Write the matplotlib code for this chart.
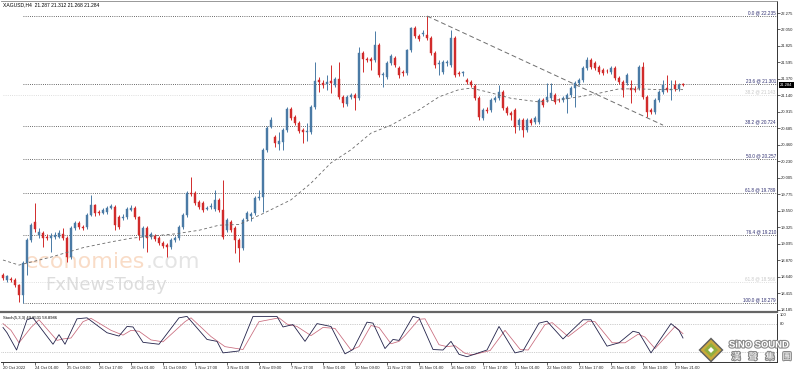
import matplotlib
matplotlib.use("Agg")
import matplotlib.pyplot as plt
import matplotlib.patheffects as pe
from matplotlib.patches import Polygon
import numpy as np

plt.rcParams["font.family"] = ["Liberation Sans", "DejaVu Sans"]

# ---------------- data ----------------
title_text = "XAGUSD,H4  21.287 21.312 21.268 21.284"
stoch_text = "Stoch(5,3,3) 49.8531 58.8986"
last_price = 21.284

opens = [
    18.66, 18.59, 18.61, 18.59, 18.53, 18.39, 18.83, 19.15, 19.39, 19.21,
    19.24, 19.19, 19.17, 19.19, 19.19, 19.23, 19.17, 18.91, 19.31, 19.38,
    19.33, 19.33, 19.49, 19.63, 19.53, 19.52, 19.53, 19.59, 19.60, 19.46,
    19.45, 19.46, 19.56, 19.59, 19.46, 19.19, 19.31, 19.19, 19.20, 19.17,
    19.10, 19.08, 19.05, 19.15, 19.17, 19.33, 19.49, 19.79, 19.79, 19.67,
    19.66, 19.58, 19.60, 19.57, 19.70, 19.56, 19.28, 19.39, 19.31, 19.15,
    19.04, 19.44, 19.48, 19.52, 19.73, 19.74, 20.39, 20.70, 20.57, 20.47,
    20.50, 20.66, 20.95, 20.84, 20.76, 20.66, 20.64, 20.64, 20.98, 21.35,
    21.31, 21.30, 21.34, 21.28, 21.37, 21.12, 21.02, 21.12, 21.15, 21.10,
    21.73, 21.64, 21.64, 21.63, 21.84, 21.42, 21.39, 21.59, 21.66, 21.52,
    21.46, 21.45, 21.77, 22.07, 21.96, 21.99, 21.97, 21.93, 21.73, 21.58,
    21.46, 21.59, 21.56, 21.93, 21.45, 21.45, 21.35, 21.33, 21.27, 21.10,
    20.83, 20.94, 20.94, 21.08, 21.10, 21.19, 20.97, 20.90, 20.94, 20.73,
    20.80, 20.66, 20.80, 20.77, 20.77, 21.08, 21.08, 21.10, 21.15, 21.08,
    21.08, 21.09, 21.15, 21.24, 21.31, 21.35, 21.52, 21.63, 21.59, 21.53,
    21.49, 21.48, 21.46, 21.52, 21.38, 21.33, 21.31, 21.24, 21.23, 21.24,
    21.53, 21.12, 20.94, 20.91, 21.08, 21.19, 21.24, 21.22, 21.28, 21.23,
    21.287,
]
highs = [
    18.69, 18.66, 18.64, 18.62, 18.54, 18.86, 19.17, 19.38, 19.66, 19.31,
    19.27, 19.23, 19.24, 19.26, 19.28, 19.31, 19.20, 19.34, 19.41, 19.41,
    19.35, 19.52, 19.77, 19.64, 19.56, 19.59, 19.62, 19.64, 19.63, 19.49,
    19.50, 19.60, 19.63, 19.62, 19.48, 19.34, 19.34, 19.26, 19.23, 19.20,
    19.13, 19.10, 19.17, 19.20, 19.35, 19.52, 19.82, 20.02, 19.82, 19.70,
    19.68, 19.62, 19.66, 19.84, 19.73, 19.97, 19.45, 19.42, 19.34, 19.17,
    19.45, 19.55, 19.53, 19.75, 19.84, 20.41, 20.72, 20.84, 20.59, 20.64,
    20.69, 20.98, 20.98, 20.87, 20.79, 20.69, 20.76, 21.01, 21.60, 21.39,
    21.35, 21.42, 21.56, 21.39, 21.60, 21.15, 21.15, 21.17, 21.17, 21.81,
    21.75, 21.67, 21.67, 22.03, 21.86, 21.46, 21.61, 21.71, 21.68, 21.55,
    21.49, 21.78, 22.08, 22.10, 21.99, 22.04, 22.235, 21.96, 21.75, 21.63,
    21.63, 21.63, 22.04, 21.96, 21.48, 21.48, 21.38, 21.35, 21.30, 21.13,
    20.97, 20.98, 21.10, 21.13, 21.28, 21.21, 20.99, 20.93, 20.97, 20.83,
    20.83, 20.83, 20.83, 20.86, 21.10, 21.10, 21.31, 21.31, 21.17, 21.10,
    21.13, 21.17, 21.27, 21.34, 21.38, 21.55, 21.67, 21.66, 21.62, 21.56,
    21.52, 21.50, 21.55, 21.55, 21.41, 21.35, 21.45, 21.35, 21.27, 21.56,
    21.60, 21.15, 20.97, 21.10, 21.22, 21.35, 21.42, 21.35, 21.35, 21.31,
    21.312,
]
lows = [
    18.59, 18.57, 18.57, 18.50, 18.29, 18.279, 18.66, 19.12, 19.26, 19.17,
    19.05, 19.15, 18.98, 19.16, 19.17, 19.15, 18.84, 18.88, 19.28, 19.30,
    19.28, 19.30, 19.48, 19.48, 19.49, 19.50, 19.50, 19.57, 19.28, 19.30,
    19.42, 19.44, 19.55, 19.44, 19.15, 19.04, 18.98, 19.16, 19.13, 19.08,
    19.04, 18.91, 19.02, 19.12, 19.15, 19.30, 19.46, 19.75, 19.63, 19.57,
    19.53, 19.56, 19.57, 19.55, 19.53, 19.16, 19.26, 19.26, 18.97, 18.84,
    19.01, 19.41, 19.41, 19.49, 19.70, 19.53, 20.36, 20.69, 20.43, 20.39,
    20.39, 20.64, 20.80, 20.73, 20.62, 20.48, 20.51, 20.61, 20.95, 21.19,
    21.24, 21.22, 21.17, 21.26, 21.09, 20.98, 20.99, 21.09, 20.94, 21.08,
    21.46, 21.60, 21.49, 21.60, 21.39, 21.26, 21.37, 21.56, 21.53, 21.38,
    21.41, 21.42, 21.74, 21.93, 21.89, 21.96, 21.90, 21.70, 21.52, 21.42,
    21.44, 21.55, 21.53, 21.39, 21.41, 21.41, 21.30, 21.26, 21.08, 20.80,
    20.80, 20.90, 20.91, 21.05, 21.08, 20.94, 20.87, 20.80, 20.62, 20.66,
    20.57, 20.64, 20.73, 20.75, 20.75, 20.98, 21.05, 21.08, 21.02, 21.05,
    21.05, 20.90, 21.12, 20.98, 21.28, 21.33, 21.49, 21.50, 21.49, 21.44,
    21.42, 21.45, 21.44, 21.35, 21.30, 21.12, 21.28, 21.04, 21.19, 21.22,
    21.09, 20.84, 20.88, 20.88, 21.05, 21.16, 21.19, 21.08, 21.20, 21.20,
    21.268,
]
closes = [
    18.62, 18.65, 18.59, 18.53, 18.39, 18.83, 19.15, 19.35, 19.30, 19.26,
    19.17, 19.17, 19.20, 19.21, 19.24, 19.17, 18.91, 19.31, 19.38, 19.33,
    19.31, 19.49, 19.63, 19.52, 19.52, 19.56, 19.59, 19.62, 19.35, 19.33,
    19.47, 19.57, 19.59, 19.46, 19.21, 19.31, 19.17, 19.23, 19.16, 19.10,
    19.06, 19.05, 19.15, 19.17, 19.33, 19.49, 19.79, 19.78, 19.66, 19.60,
    19.56, 19.59, 19.62, 19.70, 19.56, 19.19, 19.42, 19.28, 19.15, 19.04,
    19.42, 19.52, 19.50, 19.73, 19.74, 20.39, 20.69, 20.80, 20.48, 20.51,
    20.66, 20.95, 20.83, 20.76, 20.65, 20.64, 20.65, 20.98, 21.34, 21.33,
    21.28, 21.33, 21.31, 21.37, 21.12, 21.04, 21.12, 21.15, 21.10, 21.73,
    21.64, 21.63, 21.62, 21.84, 21.42, 21.43, 21.59, 21.68, 21.56, 21.42,
    21.45, 21.77, 22.07, 21.96, 21.92, 22.00, 21.93, 21.73, 21.56, 21.59,
    21.60, 21.60, 21.93, 21.42, 21.44, 21.46, 21.33, 21.28, 21.10, 20.84,
    20.94, 20.93, 21.08, 21.10, 21.19, 20.97, 20.90, 20.87, 20.70, 20.80,
    20.66, 20.80, 20.76, 20.83, 21.08, 21.01, 21.12, 21.17, 21.05, 21.07,
    21.10, 21.15, 21.24, 21.31, 21.35, 21.52, 21.63, 21.53, 21.52, 21.46,
    21.45, 21.47, 21.52, 21.38, 21.33, 21.22, 21.42, 21.22, 21.22, 21.53,
    21.12, 20.91, 20.91, 21.08, 21.19, 21.28, 21.22, 21.23, 21.23, 21.28,
    21.284,
]

# moving average (dashed) read at candle indices
ma_idx = [0, 4, 12, 20, 27, 32, 37, 43, 49, 54, 59, 65, 72, 77, 82, 87,
          92, 97, 104, 109, 114, 117, 121, 127, 134, 139, 144, 149, 154, 159, 164, 170]
ma_val = [18.87, 18.80, 18.91, 19.04, 19.12, 19.17, 19.20, 19.23, 19.28, 19.35,
          19.36, 19.51, 19.70, 19.93, 20.21, 20.39, 20.62, 20.73, 20.94, 21.12,
          21.22, 21.24, 21.19, 21.10, 21.05, 21.08, 21.12, 21.17, 21.23, 21.23,
          21.22, 21.22]

# trend line from the top
trend_idx = [106, 165]
trend_val = [22.235, 20.73]

# fibonacci retracement
fib_levels = ["0.0", "23.6", "38.2", "50.0", "61.8", "76.4", "100.0"]
fib_prices = [22.235, 21.301, 20.724, 20.257, 19.789, 19.210, 18.279]
fib_start = 5
faint_levels = ["38.2", "61.8"]
faint_prices = [21.143, 18.566]

price_ticks = [22.275, 22.050, 21.825, 21.595, 21.370, 21.140, 20.915, 20.685,
               20.460, 20.230, 20.005, 19.775, 19.550, 19.325, 19.095, 18.870,
               18.640, 18.415, 18.185]

date_idx = list(range(0, 169, 8))
date_labels = ["20 Oct 2022", "24 Oct 01:00", "25 Oct 09:00", "26 Oct 17:00",
               "28 Oct 01:00", "31 Oct 09:00", "1 Nov 17:00", "3 Nov 01:00",
               "4 Nov 09:00", "7 Nov 17:00", "9 Nov 01:00", "10 Nov 09:00",
               "11 Nov 17:00", "15 Nov 01:00", "16 Nov 09:00", "17 Nov 17:00",
               "21 Nov 01:00", "22 Nov 09:00", "23 Nov 17:00", "25 Nov 01:00",
               "28 Nov 13:00", "29 Nov 21:00"]

# stochastic %K and %D
stoch_k_idx = [0, 1, 3.4, 6, 7.5, 12.5, 14, 15.5, 18.5, 21, 26, 29, 31, 32.5, 35,
               39, 44, 46, 51, 53.5, 55, 59, 62.5, 68.5, 70, 72.5, 75.5, 78.5, 82,
               85.5, 87.5, 91, 92.5, 95.5, 97.5, 99, 102.5, 104, 107.5, 110, 112,
               114, 116, 121, 124, 128, 130, 134, 136, 140, 145, 147, 151, 154,
               157.5, 159, 162, 167, 169, 170]
stoch_k_val = [72, 61, 25, 88, 92, 37, 57, 37, 90, 92, 61, 54, 74, 73, 41,
               37, 92, 95, 47, 43, 19, 23, 95, 95, 73, 78, 43, 80, 74,
               17, 26, 83, 81, 28, 47, 45, 95, 92, 26, 25, 43,
               16, 11, 25, 74, 19, 23, 81, 85, 48, 88, 88, 33, 40,
               64, 61, 19, 80, 66, 50]
stoch_d_idx = [0, 2, 4, 7, 9, 13.5, 15, 17, 20, 22, 27, 30, 32, 34, 37, 40, 45.5,
               47, 52, 55.5, 60, 64, 69, 71, 73.5, 77, 80, 83, 87, 89, 92, 94, 97,
               99, 100.5, 104, 105.5, 109, 111, 113, 115.5, 117.5, 121.8, 125.5,
               129.3, 131.3, 135.5, 137.3, 141.3, 146.3, 148, 152.3, 155.5, 158.8,
               160.5, 163, 168, 170]
stoch_d_val = [80, 66, 40, 72, 88, 45, 48, 50, 84, 91, 66, 56, 66, 64, 46, 42, 84,
               92, 53, 32, 26, 84, 92, 79, 74, 55, 72, 70, 25, 32, 76, 72, 38,
               43, 55, 89, 90, 36, 32, 34, 18, 15, 24, 66,
               26, 25, 78, 82, 53, 85, 84, 40, 40, 58,
               52, 28, 74, 59]

# ---------------- figure ----------------
W, H = 798, 372
fig = plt.figure(figsize=(W / 100, H / 100), dpi=100)
fig.patch.set_facecolor("white")


def fx(px):
    return px / W


def fy(py):
    return 1 - py / H


x_left, x_right = -0.5, 193.5
ax = fig.add_axes([fx(1), fy(312), 776 / W, 311 / H])
ax_st = fig.add_axes([fx(1), fy(362), 776 / W, 48 / H])

# candles
idx = np.arange(len(closes))
o = np.array(opens)
c = np.array(closes)
h = np.array(highs)
l = np.array(lows)
col = np.where(c >= o, "#4a7aa5", "#d12b2b")
ax.vlines(idx, l, h, colors=col, linewidth=0.7, zorder=3)
ax.bar(idx, np.maximum(np.abs(c - o), 0.012), bottom=np.minimum(o, c), width=0.72,
       color=col, edgecolor=col, linewidth=0.3, zorder=4)

# indicators / drawings
ax.plot(ma_idx, ma_val, color="#6a6a6a", lw=0.6, ls=(0, (3.5, 3)), zorder=5)
ax.plot(trend_idx, trend_val, color="#6e6e6e", lw=0.7, ls=(0, (5, 3)), zorder=5)

for lvl, p in zip(faint_levels, faint_prices):
    ax.hlines(p, 0, x_right, colors="#d4d4d4", linewidth=0.6, linestyles=(0, (1, 1.6)), zorder=2)
    ax.text(x_right - 0.3, p + 0.012, f"{lvl} @ {p:.3f}", ha="right", va="bottom",
            fontsize=3.3, color="#c8c8c8", zorder=2)

for lvl, p in zip(fib_levels, fib_prices):
    ax.hlines(p, fib_start, x_right, colors="#3a3a3a", linewidth=0.6,
              linestyles=(0, (1, 1.6)), zorder=2)
    ax.text(x_right - 0.3, p + 0.012, f"{lvl} @ {p:.3f}", ha="right", va="bottom",
            fontsize=3.3, color="#2e2e70", zorder=6)

# watermarks
ax.text(fx(25), fy(268), "economies", transform=fig.transFigure, fontsize=16,
        family="DejaVu Sans", color="#f9dcc7", zorder=1)
ax.text(fx(146), fy(268), ".com", transform=fig.transFigure, fontsize=16,
        family="DejaVu Sans", color="#e4e4e4", zorder=1)
ax.text(fx(45), fy(290), "FxNewsToday", transform=fig.transFigure, fontsize=13,
        family="DejaVu Sans", color="#dddddd", zorder=1)

ax.set_xlim(x_left, x_right)
ax.set_ylim(18.153, 22.442)
ax.yaxis.tick_right()
ax.set_yticks(price_ticks)
ax.set_yticklabels([f"{v:.3f}" for v in price_ticks])
ax.tick_params(axis="y", labelsize=3, length=2, width=0.5, pad=1, colors="#222222")
ax.tick_params(axis="x", bottom=False, labelbottom=False)
ax.spines["left"].set_visible(False)
ax.spines["top"].set_color("#888888")
ax.spines["top"].set_linewidth(0.6)
ax.spines["right"].set_color("#333333")
ax.spines["right"].set_linewidth(0.7)
ax.spines["bottom"].set_color("#666666")
ax.spines["bottom"].set_linewidth(1.6)

ax.text(1.004, last_price, f"{last_price:.3f}", transform=ax.get_yaxis_transform(),
        fontsize=3, color="white", va="center", ha="left", zorder=10, clip_on=False,
        bbox=dict(boxstyle="square,pad=0.3", fc="black", ec="none"))

# stochastic panel
ax_st.set_xlim(x_left, x_right)
ax_st.set_ylim(0, 100)
ax_st.hlines([80, 20], x_left, x_right, colors="#a0a0a0", linewidth=0.5,
             linestyles=(0, (1, 1.6)))
ax_st.plot(stoch_d_idx, stoch_d_val, color="#c8697b", lw=0.55)
ax_st.plot(stoch_k_idx, stoch_k_val, color="#22224a", lw=0.6)
ax_st.yaxis.tick_right()
ax_st.set_yticks([100, 80])
ax_st.set_yticklabels(["100", "80"])
ax_st.tick_params(axis="y", labelsize=3, length=0, pad=2, colors="#222222")
ax_st.set_xticks(date_idx)
ax_st.set_xticklabels(date_labels, ha="left")
ax_st.tick_params(axis="x", labelsize=3, length=2, width=0.5, pad=1, colors="#222222")
ax_st.spines["left"].set_visible(False)
ax_st.spines["top"].set_visible(False)
ax_st.spines["right"].set_color("#333333")
ax_st.spines["right"].set_linewidth(0.7)
ax_st.spines["bottom"].set_color("#333333")
ax_st.spines["bottom"].set_linewidth(0.7)

fig.text(fx(3), fy(5), title_text, fontsize=3.6, va="center", ha="left")
fig.text(fx(3), fy(318), stoch_text, fontsize=3, va="center", ha="left")

# Sino Sound logo
cx, cy = 711, 350
for r, colr in [(12.5, "#5e5e5e"), (10.5, "#c9a93c"), (7, "#8fae3e"), (3, "white")]:
    fig.add_artist(Polygon([(fx(cx), fy(cy - r)), (fx(cx + r), fy(cy)),
                            (fx(cx), fy(cy + r)), (fx(cx - r), fy(cy))],
                           closed=True, transform=fig.transFigure, fc=colr, ec="none",
                           zorder=20))
stroke = [pe.withStroke(linewidth=1.6, foreground="#8a8a8a")]
fig.text(fx(729), fy(345), "SiNO SOUND", fontsize=6.8, weight="bold", color="white",
         va="center", ha="left", path_effects=stroke, zorder=21)
for k, ch in enumerate("漢聲集團"):
    fig.text(fx(736 + 17 * k), fy(357), ch, fontsize=6.5,
             family=["Noto Sans CJK TC", "DejaVu Sans"], color="white",
             va="center", ha="center", path_effects=stroke, zorder=21)

fig.savefig("out.png", dpi=100, facecolor="white")
